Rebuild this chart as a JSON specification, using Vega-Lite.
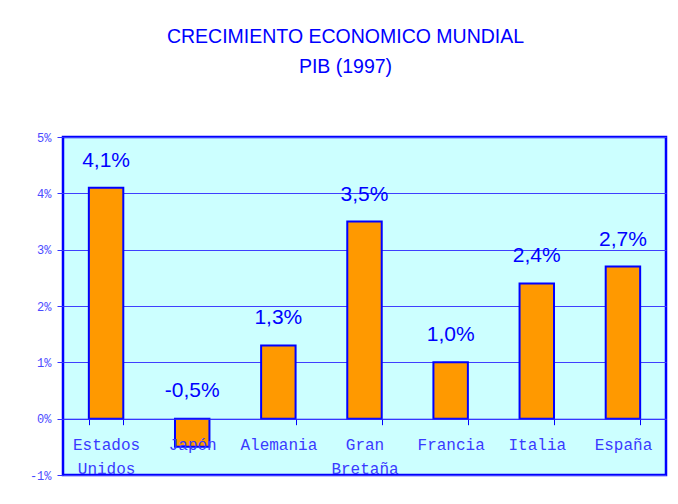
{
  "$schema": "https://vega.github.io/schema/vega-lite/v6.json",
  "width": 603,
  "height": 338,
  "autosize": {"type": "none"},
  "padding": {"left": 63, "top": 137, "right": 12, "bottom": 29},
  "background": "white",
  "title": {
    "text": ["CRECIMIENTO ECONOMICO MUNDIAL", "PIB (1997)"],
    "font": "Liberation Sans",
    "fontSize": 19.5,
    "fontWeight": "normal",
    "color": "#0000ff",
    "lineHeight": 30,
    "anchor": "middle",
    "dx": -19,
    "offset": 54
  },
  "config": {
    "locale": {"number": {"decimal": ",", "thousands": ".", "grouping": [3], "currency": ["", " €"], "minus": "-"}},
    "view": {"fill": "#ccffff", "stroke": "#0000ff", "strokeWidth": 2.5}
  },
  "data": {
    "values": [
      {"pais": "Estados Unidos", "valor": 0.041},
      {"pais": "Japón", "valor": -0.005},
      {"pais": "Alemania", "valor": 0.013},
      {"pais": "Gran Bretaña", "valor": 0.035},
      {"pais": "Francia", "valor": 0.010},
      {"pais": "Italia", "valor": 0.024},
      {"pais": "España", "valor": 0.027}
    ]
  },
  "encoding": {
    "x": {
      "field": "pais",
      "type": "nominal",
      "sort": null,
      "scale": {"paddingInner": 0.6, "paddingOuter": 0.3},
      "axis": {
        "title": null,
        "labelAngle": 0,
        "offset": -56.3,
        "zindex": 1,
        "tickBand": "extent",
        "tickSize": 6,
        "tickColor": "#0000ff",
        "domainColor": "#3333ff",
        "labelFont": "Liberation Mono",
        "labelFontSize": 16,
        "labelColor": "#3a3aff",
        "labelPadding": 12,
        "labelLineHeight": 24,
        "labelExpr": "split(datum.label, ' ')"
      }
    },
    "y": {
      "field": "valor",
      "type": "quantitative",
      "scale": {"domain": [-0.01, 0.05], "nice": false},
      "axis": {
        "title": null,
        "values": [-0.01, 0, 0.01, 0.02, 0.03, 0.04, 0.05],
        "format": ".0%",
        "grid": true,
        "gridColor": "#3f3fff",
        "gridWidth": 1,
        "gridOpacity": 1,
        "tickColor": "#3333ff",
        "tickSize": 6,
        "domain": false,
        "labelFont": "Liberation Mono",
        "labelFontSize": 12,
        "labelColor": "#4a4aff",
        "labelPadding": 6
      }
    }
  },
  "layer": [
    {
      "mark": {"type": "bar", "fill": "#ff9900", "stroke": "#0000ff", "strokeWidth": 2}
    },
    {
      "transform": [{"filter": "datum.valor >= 0"}],
      "mark": {"type": "text", "font": "Liberation Sans", "fontSize": 21, "color": "#0000ff", "baseline": "alphabetic", "dy": -21},
      "encoding": {
        "text": {"field": "valor", "type": "quantitative", "format": ".1%"}
      }
    },
    {
      "transform": [{"filter": "datum.valor < 0"}],
      "mark": {"type": "text", "font": "Liberation Sans", "fontSize": 21, "color": "#0000ff", "baseline": "alphabetic", "dy": -22},
      "encoding": {
        "y": {"datum": 0},
        "text": {"field": "valor", "type": "quantitative", "format": ".1%"}
      }
    }
  ]
}
